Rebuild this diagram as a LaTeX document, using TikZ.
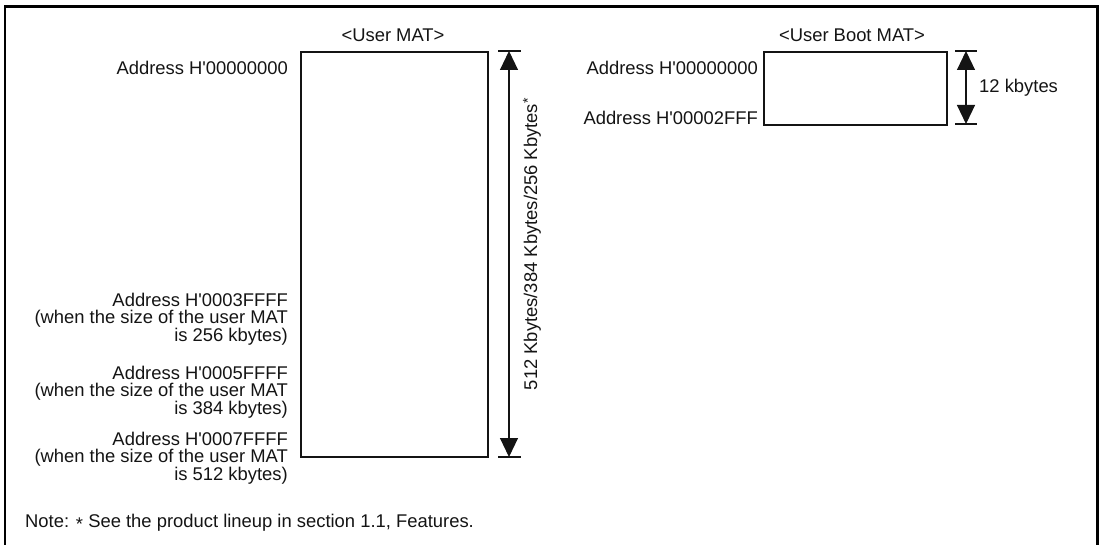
\documentclass[tikz,border=0pt]{standalone}
\usepackage{fontspec}
\setmainfont{Liberation Sans}
\usetikzlibrary{arrows.meta}
\definecolor{cLine}{RGB}{20,20,20}
\newcommand{\hq}{\textquotesingle}
\tikzset{
  lbl/.style={inner sep=0pt, text=cLine, font=\fontsize{18.4}{17.5}\selectfont},
  addr/.style={lbl, anchor=east, align=right},
  mat/.style={rectangle, draw=cLine, line width=2pt, inner sep=0pt},
  dim/.style={{Triangle[length=19pt,width=18pt]}-{Triangle[length=19pt,width=18pt]}, line width=1.1pt, draw=cLine},
  tick/.style={line width=1.1pt, draw=cLine},
}

\begin{document}
\begin{tikzpicture}[x=1pt,y=1pt]
\useasboundingbox (0,0) rectangle (1101,-545);

% outer frame (open at the bottom)
\draw[line width=2.5pt, draw=black] (5,-545) -- (5,-6.5) -- (1097.5,-6.5) -- (1097.5,-545);

% user MAT
\node[lbl] (umattitle) at (393,-35) {<User MAT>};
\node[mat, minimum width=187pt, minimum height=405pt, anchor=north west] (umat) at (300,-51) {};

\coordinate (utop) at (509,-51);
\coordinate (ubot) at (509,-457);
\draw[tick] (utop) ++(-11,0) -- ++(23,0);
\draw[tick] (ubot) ++(-11,0) -- ++(23,0);
\draw[dim] (utop) -- (ubot);
\node[lbl, rotate=90, anchor=center] (usize) at (532,-247)
  {512 Kbytes/384 Kbytes/256 Kbytes\rlap{\raisebox{4.5pt}{\fontsize{14}{14}\selectfont *}}};

\node[addr] (ua0) at (288,-68) {Address H\hq 00000000};
\node[addr] (ua256) at (288,-319)
  {Address H\hq 0003FFFF\\(when the size of the user MAT\hspace*{0.3em}\\is 256 kbytes)};
\node[addr] (ua384) at (288,-392)
  {Address H\hq 0005FFFF\\(when the size of the user MAT\hspace*{0.3em}\\is 384 kbytes)};
\node[addr] (ua512) at (288,-458)
  {Address H\hq 0007FFFF\\(when the size of the user MAT\hspace*{0.3em}\\is 512 kbytes)};

% user boot MAT
\node[lbl] (bmattitle) at (852,-35) {<User Boot MAT>};
\node[mat, minimum width=183pt, minimum height=73pt, anchor=north west] (bmat) at (763,-51) {};

\coordinate (btop) at (966,-51);
\coordinate (bbot) at (966,-124);
\draw[tick] (btop) ++(-11,0) -- ++(22,0);
\draw[tick] (bbot) ++(-11,0) -- ++(22,0);
\draw[dim] (btop) -- (bbot);
\node[lbl, anchor=west] (bsize) at (979,-88) {12 kbytes};

\node[addr] (ba0) at (758,-68) {Address H\hq 00000000};
\node[addr] (baend) at (758,-118) {Address H\hq 00002FFF};

% note
\node[lbl, anchor=west] (note) at (25,-523)
  {Note: \raisebox{-3pt}{*} See the product lineup in section 1.1, Features.};

\end{tikzpicture}
\end{document}
